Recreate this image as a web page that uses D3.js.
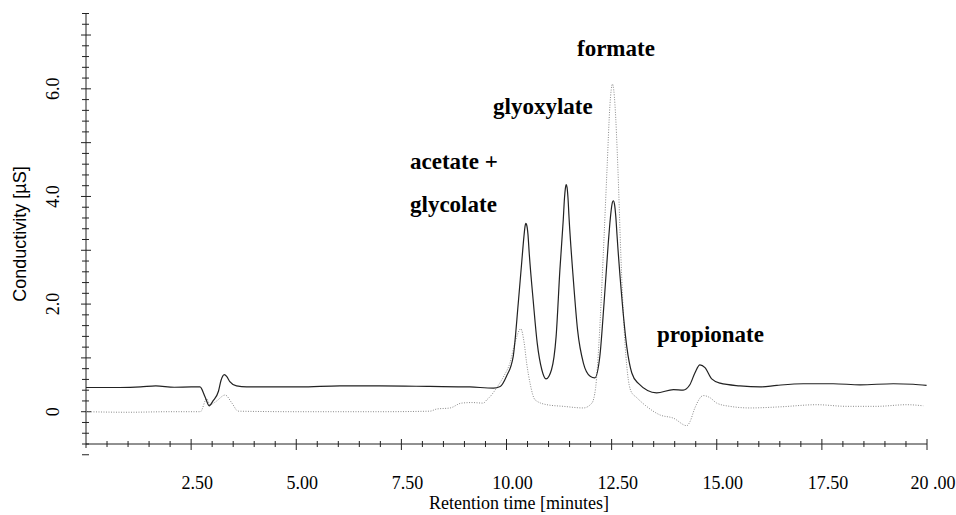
<!DOCTYPE html>
<html>
<head>
<meta charset="utf-8">
<style>
body { margin: 0; background: #fff; }
svg { display: block; }
.serif { font-family: "Liberation Serif", "DejaVu Serif", serif; }
.peak { font-family: "Liberation Serif", serif; font-weight: bold; font-size: 23px; fill: #000; }
</style>
</head>
<body>
<svg id="chart" width="956" height="515"></svg>
<script src="https://d3js.org/d3.v7.min.js"></script>
<script>

// solid trace (upper)
var solidTime  = [0, 0.8, 1.3, 1.66, 2.1, 2.5, 2.71, 2.83, 2.93, 3.02, 3.15, 3.21, 3.29, 3.35, 3.42, 3.58, 3.82,
  5.09, 6.04, 6.99, 8.18, 9.13, 9.69, 9.85, 10.0, 10.16, 10.28, 10.36, 10.42, 10.44, 10.46, 10.48, 10.51, 10.54,
  10.64, 10.73, 10.84, 10.94, 11.07, 11.18, 11.27, 11.35, 11.38, 11.40, 11.42, 11.44, 11.46, 11.49, 11.59, 11.69,
  11.83, 11.99, 12.10, 12.22, 12.32, 12.42, 12.47, 12.51, 12.54, 12.57, 12.60, 12.63, 12.74, 12.86, 12.98, 13.13,
  13.57, 13.97, 14.20, 14.36, 14.48, 14.60, 14.72, 14.88, 15.08, 15.55, 16.03, 16.43, 17.06, 17.77, 18.41, 19.20,
  19.67, 19.99];
var solidValue = [0.45, 0.45, 0.46, 0.48, 0.455, 0.46, 0.46, 0.28, 0.11, 0.20, 0.38, 0.58, 0.69, 0.65, 0.56, 0.48, 0.46,
  0.46, 0.48, 0.48, 0.47, 0.46, 0.44, 0.47, 0.66, 1.03, 2.02, 2.76, 3.30, 3.44, 3.50, 3.47, 3.30, 2.95,
  2.02, 1.28, 0.78, 0.61, 0.78, 1.40, 2.64, 3.57, 3.98, 4.15, 4.22, 4.17, 4.00, 3.57, 2.45, 1.52,
  0.90, 0.66, 0.63, 1.03, 2.02, 3.13, 3.60, 3.86, 3.92, 3.85, 3.62, 3.26, 2.14, 1.21, 0.72, 0.53,
  0.35, 0.41, 0.40, 0.50, 0.72, 0.87, 0.82, 0.61, 0.53, 0.48, 0.46, 0.49, 0.52, 0.52, 0.50, 0.52,
  0.51, 0.49];

// dotted trace (lower)
var dottedTime  = [0, 1.0, 2.0, 2.72, 2.87, 2.95, 3.09, 3.31, 3.47, 3.62, 5.09, 6.99, 8.18, 8.34, 8.66, 8.93, 9.18,
  9.45, 9.53, 9.61, 9.77, 9.95, 10.08, 10.20, 10.34, 10.42, 10.48, 10.56, 10.68, 10.96, 11.35, 11.83, 12.03,
  12.12, 12.2, 12.3, 12.39, 12.46, 12.49, 12.52, 12.55, 12.58, 12.65, 12.72, 12.8, 12.88, 12.96, 13.1, 13.33,
  13.65, 13.97, 14.29, 14.36, 14.48, 14.68, 14.84, 15.00, 15.31, 15.79, 16.50, 17.38, 18.09, 18.80, 19.52, 19.91];
var dottedValue = [0.0, -0.01, 0.0, 0.0, 0.24, 0.13, 0.19, 0.31, 0.16, 0.01, 0.0, 0.0, 0.01, 0.05, 0.07, 0.16, 0.17,
  0.16, 0.22, 0.28, 0.45, 0.68, 0.90, 1.28, 1.54, 1.28, 0.90, 0.53, 0.22, 0.13, 0.10, 0.07, 0.16,
  0.45, 1.3, 2.9, 4.5, 5.7, 5.98, 6.09, 5.98, 5.7, 4.5, 2.9, 1.5, 0.7, 0.38, 0.26, 0.10,
  -0.06, -0.12, -0.26, -0.19, 0.07, 0.30, 0.26, 0.16, 0.10, 0.07, 0.09, 0.13, 0.10, 0.10, 0.13, 0.11];

var xTickValues = [2.5, 5, 7.5, 10, 12.5, 15, 17.5, 20];
var xTickLabels = ["2.50", "5.00", "7.50", "10.00", "12.50", "15.00", "17.50", "20 .00"];
var yTickValues = [0, 2, 4, 6];
var yTickLabels = ["0", "2.0", "4.0", "6.0"];

var peakNames = ["formate", "glyoxylate", "acetate +", "glycolate", "propionate"];
var peakLabelX = [577, 493, 410, 410, 657];
var peakLabelY = [56, 114, 169, 212, 342];

var svg = d3.select("#chart");

var x = d3.scaleLinear().domain([0, 20]).range([86, 927]);
var y = d3.scaleLinear().domain([-0.6, 7.4]).range([444, 13.5]);

var axisColor = "#222";

// y axis
svg.append("line")
  .attr("x1", x(0)).attr("x2", x(0))
  .attr("y1", y(7.4)).attr("y2", y(-0.6) + 4)
  .attr("stroke", axisColor).attr("stroke-width", 1);

var yMinor = d3.range(-4, 38).map(function(i) { return i / 5; });
svg.append("g").selectAll("line")
  .data(yMinor).enter().append("line")
  .attr("x1", function(d) { return x(0) - (Math.abs(d - Math.round(d)) < 1e-6 ? 5 : 4); })
  .attr("x2", function(d) { return x(0) + (Math.abs(d - Math.round(d)) < 1e-6 ? 5 : 3); })
  .attr("y1", function(d) { return y(d); })
  .attr("y2", function(d) { return y(d); })
  .attr("stroke", axisColor).attr("stroke-width", 1);

svg.append("g").selectAll("text")
  .data(yTickValues).enter().append("text")
  .attr("class", "serif")
  .attr("transform", function(d) { return "translate(59," + y(d) + ") rotate(-90)"; })
  .attr("text-anchor", "middle")
  .attr("font-size", 18)
  .text(function(d, i) { return yTickLabels[i]; });

svg.append("text")
  .attr("transform", "translate(26,234) rotate(-90)")
  .attr("text-anchor", "middle")
  .attr("font-family", "Liberation Sans, Arial, sans-serif")
  .attr("font-size", 18)
  .text("Conductivity [µS]");

// x axis
svg.append("line")
  .attr("x1", x(0)).attr("x2", x(20))
  .attr("y1", y(-0.6)).attr("y2", y(-0.6))
  .attr("stroke", axisColor).attr("stroke-width", 1);

var xMinor = d3.range(1, 41).map(function(i) { return i / 2; });
svg.append("g").selectAll("line")
  .data(xMinor).enter().append("line")
  .attr("x1", function(d) { return x(d); })
  .attr("x2", function(d) { return x(d); })
  .attr("y1", function(d) { return y(-0.6) - (d % 2.5 === 0 ? 5 : 3); })
  .attr("y2", function(d) { return y(-0.6) + (d % 2.5 === 0 ? 6 : 3); })
  .attr("stroke", axisColor).attr("stroke-width", 1);

svg.append("g").selectAll("text")
  .data(xTickValues).enter().append("text")
  .attr("class", "serif")
  .attr("x", function(d) { return x(d) + 6; })
  .attr("y", 489)
  .attr("text-anchor", "middle")
  .attr("font-size", 18)
  .text(function(d, i) { return xTickLabels[i]; });

svg.append("text")
  .attr("class", "serif")
  .attr("x", 519).attr("y", 509)
  .attr("text-anchor", "middle")
  .attr("font-size", 18)
  .text("Retention time [minutes]");

// traces
var line = d3.line()
  .x(function(d) { return x(d[0]); })
  .y(function(d) { return y(d[1]); })
  .curve(d3.curveMonotoneX);

svg.append("path")
  .datum(d3.zip(dottedTime, dottedValue))
  .attr("d", line)
  .attr("fill", "none")
  .attr("stroke", "#8a8a8a")
  .attr("stroke-width", 1)
  .attr("stroke-dasharray", "1,1.5");

svg.append("path")
  .datum(d3.zip(solidTime, solidValue))
  .attr("d", line)
  .attr("fill", "none")
  .attr("stroke", "#222")
  .attr("stroke-width", 1.2);

// peak names
svg.append("g").selectAll("text")
  .data(peakNames).enter().append("text")
  .attr("class", "peak")
  .attr("x", function(d, i) { return peakLabelX[i]; })
  .attr("y", function(d, i) { return peakLabelY[i]; })
  .text(function(d) { return d; });

</script>
</body>
</html>
